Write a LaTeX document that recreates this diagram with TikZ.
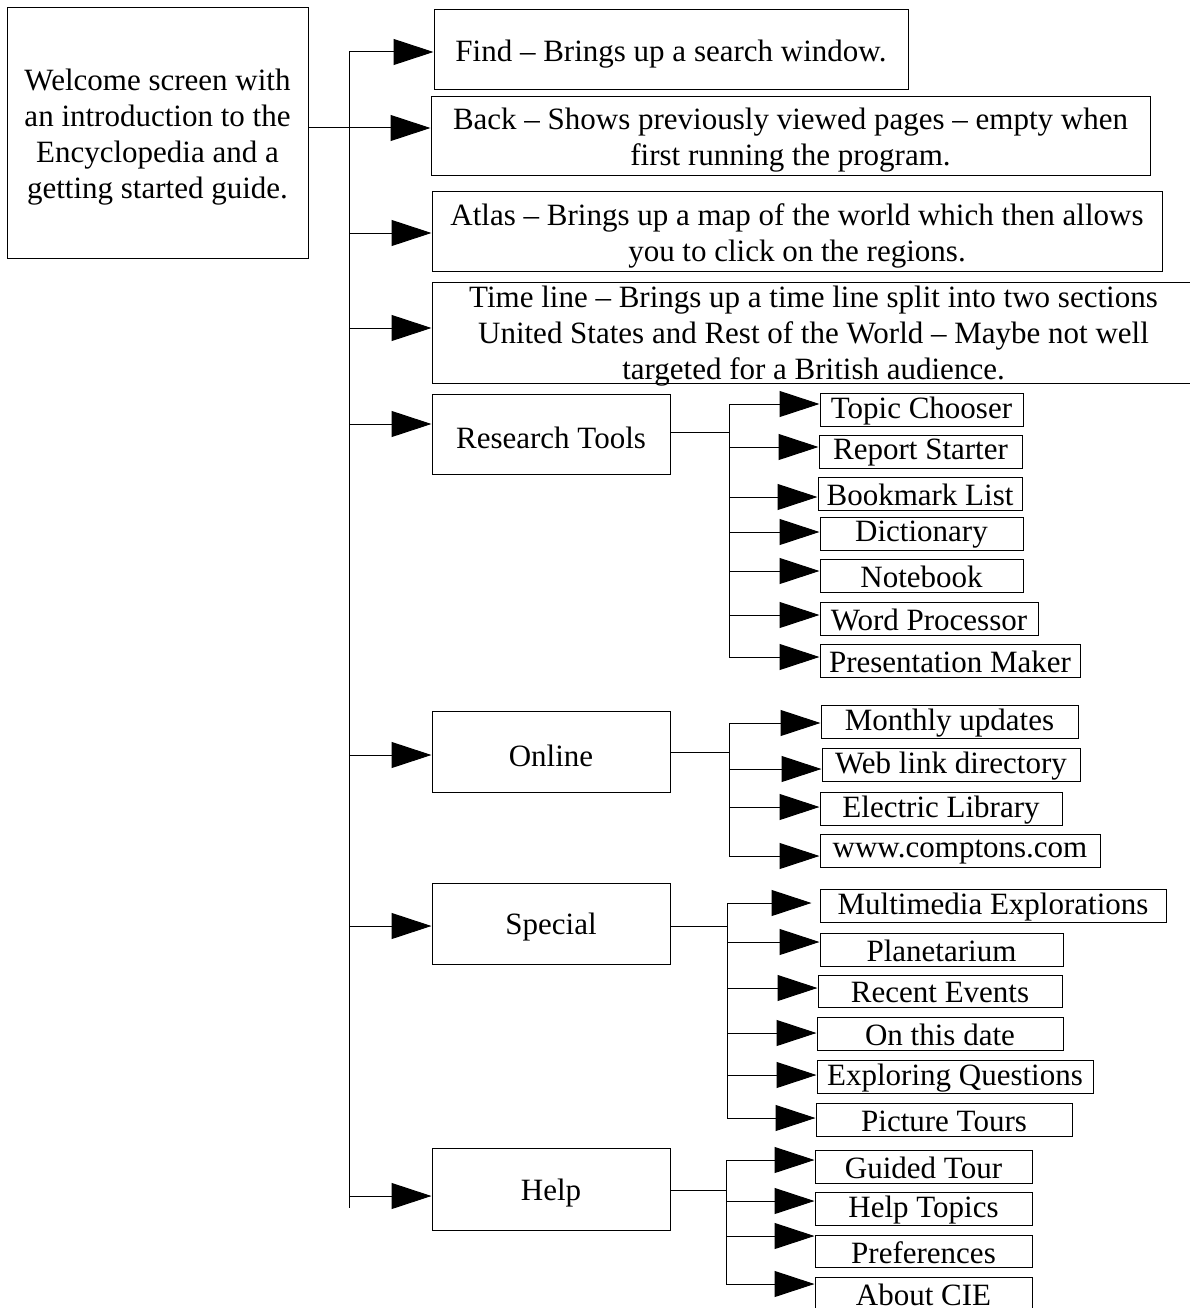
\documentclass[tikz,border=0pt]{standalone}
\usepackage{fontspec}
\setmainfont{Liberation Serif}
\usetikzlibrary{arrows.meta}
\tikzset{
  box/.style={draw=black, line width=1pt, inner sep=0pt},
  txt/.style={inner sep=0pt, align=center, yshift=-4pt,
    font=\fontsize{31}{36}\selectfont},
  smalltxt/.style={inner sep=0pt, align=center, yshift=-1.5pt,
    font=\fontsize{31}{36}\selectfont},
  link/.style={draw=black, line width=1pt},
  arr/.style={link, -{Triangle[length=40pt,width=26pt]}},
}
\newcommand\bx[6]{\node[box, minimum width={(#3)-(#2)}, minimum height={(#5)-(#4)}, label={[txt]center:{#6}}] (#1) at ({((#2)+(#3))/2},{((#4)+(#5))/2}) {};}
\newcommand\sbx[6]{\node[box, minimum width={(#3)-(#2)}, minimum height={(#5)-(#4)}, label={[smalltxt]center:{#6}}] (#1) at ({((#2)+(#3))/2},{((#4)+(#5))/2}) {};}
\begin{document}
\begin{tikzpicture}[x=1pt,y=-1pt]
\useasboundingbox[fill=white] (0,0) rectangle (1189,1308);

% main boxes
\bx{welcome}{7}{308}{8}{258}{Welcome screen with\\an introduction to the\\Encyclopedia and a\\getting started guide.}
\bx{find}{434}{908}{10}{90}{Find -- Brings up a search window.}
\bx{back}{431}{1150}{97}{176}{Back -- Shows previously viewed pages -- empty when\\first running the program.}
\bx{atlas}{432}{1162}{192}{271}{Atlas -- Brings up a map of the world which then allows\\you to click on the regions.}
\bx{time}{432}{1195}{282}{383}{Time line -- Brings up a time line split into two sections\\United States and Rest of the World -- Maybe not well\\targeted for a British audience.}
\bx{research}{432}{670}{394}{474}{Research Tools}
\bx{online}{432}{670}{711}{792}{Online}
\bx{special}{432}{670}{883}{964}{Special}
\bx{help}{432}{670}{1148}{1230}{Help}

% main trunk
\coordinate (tF) at (349,52);
\coordinate (tB) at (349,128);
\coordinate (tA) at (349,233);
\coordinate (tT) at (349,328);
\coordinate (tR) at (349,424);
\coordinate (tO) at (349,755);
\coordinate (tS) at (349,926);
\coordinate (tH) at (349,1196);
\coordinate (tEnd) at (349,1208);
\draw[link] (tF) -- (tEnd);
\draw[arr] (tF) -- (find.west |- tF);
\draw[arr] (welcome.east |- tB) -- (back.west |- tB);
\draw[arr] (tA) -- (atlas.west |- tA);
\draw[arr] (tT) -- (time.west |- tT);
\draw[arr] (tR) -- (research.west |- tR);
\draw[arr] (tO) -- (online.west |- tO);
\draw[arr] (tS) -- (special.west |- tS);
\draw[arr] (tH) -- (help.west |- tH);

% research tools
\sbx{r1}{820}{1023}{393}{426}{Topic Chooser}
\sbx{r2}{819}{1022}{435}{468}{Report Starter}
\sbx{r3}{818}{1022}{477}{510}{Bookmark List}
\sbx{r4}{820}{1023}{517}{550}{Dictionary}
\sbx{r5}{820}{1023}{559}{592}{Notebook}
\sbx{r6}{820}{1038}{602}{635}{Word Processor}
\sbx{r7}{820}{1080}{644}{677}{Presentation Maker}
\coordinate (rj) at (729,432);
\coordinate (ra1) at (729,404);
\coordinate (ra2) at (729,447);
\coordinate (ra3) at (729,497);
\coordinate (ra4) at (729,532);
\coordinate (ra5) at (729,571);
\coordinate (ra6) at (729,615);
\coordinate (ra7) at (729,657);
\draw[link] (research.east |- rj) -- (rj);
\draw[link] (ra1) -- (ra7);
\foreach \i in {1,...,7} {\draw[arr] (ra\i) -- (r\i.west |- ra\i);}

% online
\sbx{o1}{821}{1078}{705}{738}{Monthly updates}
\sbx{o2}{822}{1080}{748}{781}{Web link directory}
\sbx{o3}{820}{1062}{792}{825}{Electric Library}
\sbx{o4}{820}{1100}{834}{867}{www.comptons.com}
\coordinate (oj) at (729,752);
\coordinate (oa1) at (729,723);
\coordinate (oa2) at (729,769);
\coordinate (oa3) at (729,807);
\coordinate (oa4) at (729,856);
\draw[link] (online.east |- oj) -- (oj);
\draw[link] (oa1) -- (oa4);
\foreach \i in {1,...,4} {\draw[arr] (oa\i) -- (o\i.west |- oa\i);}

% special
\sbx{s1}{820}{1166}{889}{922}{Multimedia Explorations}
\sbx{s2}{820}{1063}{933}{966}{Planetarium}
\sbx{s3}{818}{1062}{975}{1007}{Recent Events}
\sbx{s4}{817}{1063}{1017}{1050}{On this date}
\sbx{s5}{817}{1093}{1060}{1093}{Exploring Questions}
\sbx{s6}{816}{1072}{1103}{1136}{Picture Tours}
\coordinate (sj) at (727,926);
\coordinate (sa1) at (727,903);
\coordinate (sa2) at (727,942);
\coordinate (sa3) at (727,988);
\coordinate (sa4) at (727,1033);
\coordinate (sa5) at (727,1075);
\coordinate (sa6) at (727,1118);
\draw[link] (special.east |- sj) -- (sj);
\draw[link] (sa1) -- (sa6);
\draw[arr, shorten >=8pt] (sa1) -- (s1.west |- sa1);
\foreach \i in {2,...,6} {\draw[arr] (sa\i) -- (s\i.west |- sa\i);}

% help
\sbx{h1}{815}{1032}{1150}{1183}{Guided Tour}
\sbx{h2}{815}{1032}{1192}{1225}{Help Topics}
\sbx{h3}{815}{1032}{1235}{1267}{Preferences}
\sbx{h4}{815}{1032}{1277}{1310}{About CIE}
\coordinate (hj) at (726,1190);
\coordinate (ha1) at (726,1160);
\coordinate (ha2) at (726,1201);
\coordinate (ha3) at (726,1236);
\coordinate (ha4) at (726,1284);
\draw[link] (help.east |- hj) -- (hj);
\draw[link] (ha1) -- (ha4);
\foreach \i in {1,...,4} {\draw[arr] (ha\i) -- (h\i.west |- ha\i);}
\end{tikzpicture}
\end{document}
